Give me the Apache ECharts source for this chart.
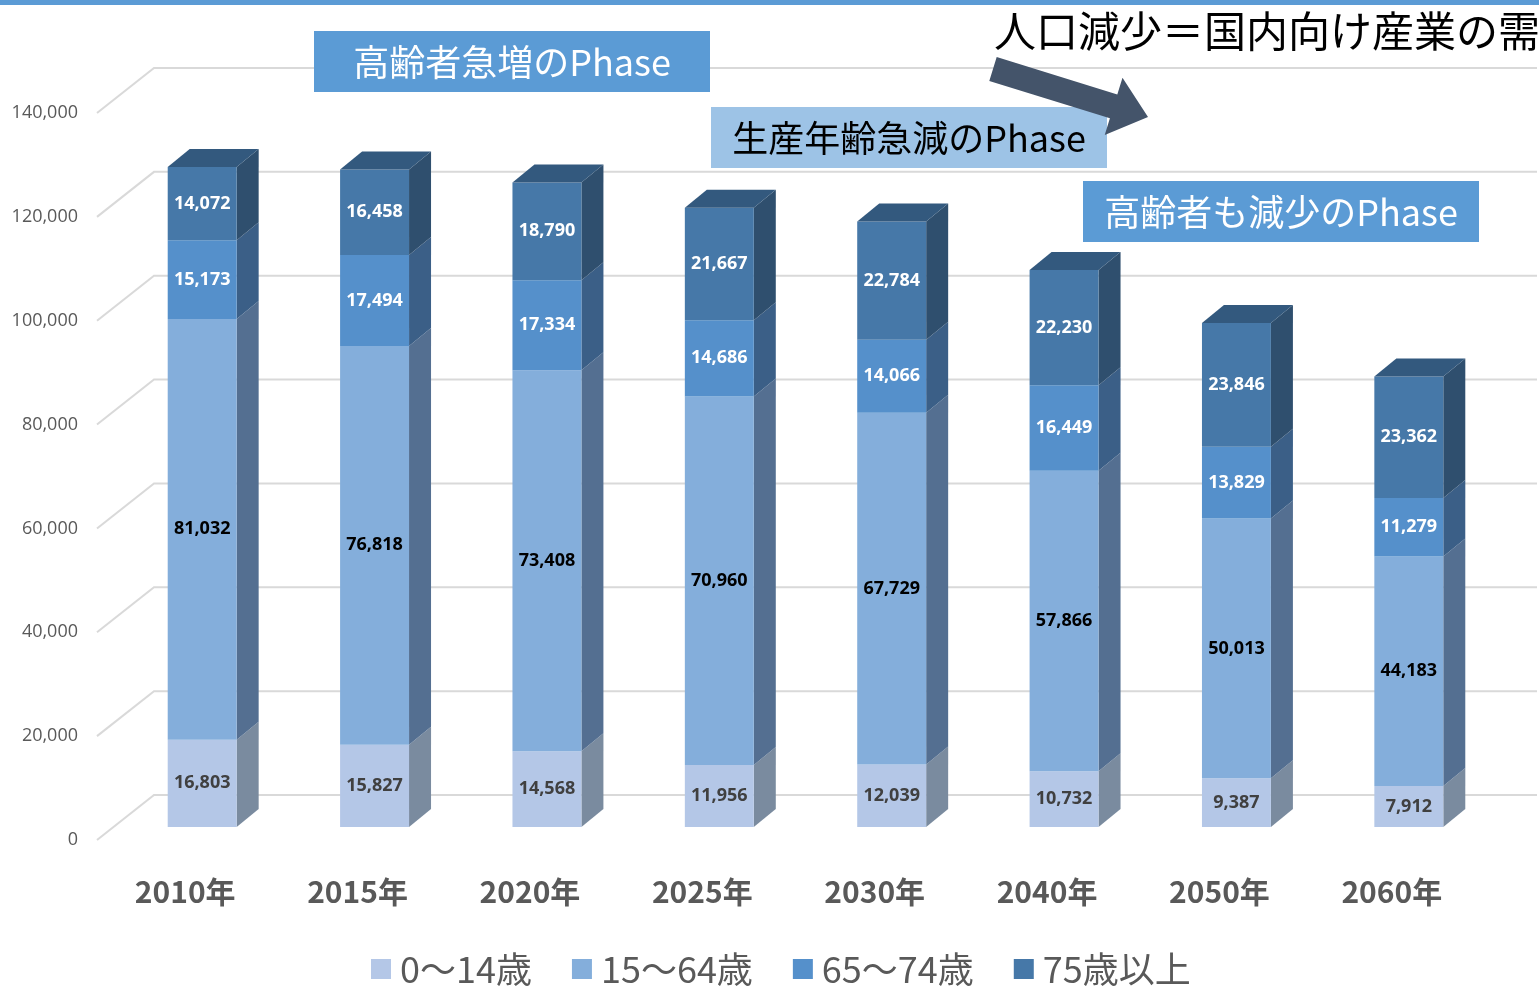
<!DOCTYPE html>
<html><head><meta charset="utf-8">
<script src="https://cdn.jsdelivr.net/npm/echarts@6/dist/echarts.min.js"></script>
<style>html,body{margin:0;padding:0;background:#fff}#c{width:1539px;height:993px}</style>
</head><body><div id="c"></div>
<script>
const categories = ['2010年','2015年','2020年','2025年','2030年','2040年','2050年','2060年'];
const seriesNames = ['0〜14歳','15〜64歳','65〜74歳','75歳以上'];
const age0_14  = [16803,15827,14568,11956,12039,10732,9387,7912];
const age15_64 = [81032,76818,73408,70960,67729,57866,50013,44183];
const age65_74 = [15173,17494,17334,14686,14066,16449,13829,11279];
const age75up  = [14072,16458,18790,21667,22784,22230,23846,23362];
const yTicks = [0,20000,40000,60000,80000,100000,120000,140000];

const frontColors = ['#b4c7e7','#84aedb','#5590cb','#4678a8'];
const sideColors  = ['#7a8b9f','#546f91','#3b5f87','#2f4f6e'];
const topColor = '#33597e';
const labelColors = ['#404040','#000000','#ffffff','#ffffff'];

const FX = 17, FY = -13;   // bar front face offset from the front plane
const DX = 22, DY = -18;   // bar depth
const WX = 57, WY = -45;   // wall depth

const values = [age0_14, age15_64, age65_74, age75up];
const bases = values.map((arr, s) => arr.map((_, i) => {
  let b = 0; for (let k = 0; k < s; k++) b += values[k][i]; return b;
}));

function fmt(v){ return Number(v).toLocaleString('en-US'); }

function barRender(s) {
  const isTop = s === values.length - 1;
  return function(params, api) {
    const i = api.value(0), lo = api.value(1), hi = api.value(2), v = api.value(3);
    const pLo = api.coord([i, lo]), pHi = api.coord([i, hi]);
    const w = api.size([1, 0])[0] * 0.4;
    const xL = pLo[0] + FX - w / 2, xR = xL + w;
    const yB = pLo[1] + FY, yT = pHi[1] + FY;
    const children = [
      {type:'polygon', shape:{points:[[xR,yT],[xR+DX,yT+DY],[xR+DX,yB+DY],[xR,yB]]}, style:{fill:sideColors[s]}},
      {type:'rect', shape:{x:xL, y:yT, width:w, height:yB-yT}, style:{fill:frontColors[s]}}
    ];
    if (isTop) {
      children.push({type:'polygon', shape:{points:[[xL,yT],[xL+DX,yT+DY],[xR+DX,yT+DY],[xR,yT]]}, style:{fill:topColor}});
    }
    children.push({type:'text', style:{text:fmt(v), x:(xL+xR)/2, y:(yT+yB)/2, align:'center', verticalAlign:'middle',
      fill:labelColors[s], font:'bold 18px "Open Sans", "Noto Sans CJK JP", sans-serif'}});
    return {type:'group', children};
  };
}

function gridRender(params, api) {
  const cs = params.coordSys;
  const y = api.coord([0, api.value(1)])[1];
  const x0 = cs.x - 2;
  return {type:'polyline', shape:{points:[[x0, y],[x0+WX, y+WY],[cs.x+cs.width+WX+2, y+WY]]},
    style:{stroke:'#d9d9d9', lineWidth:2, fill:null}};
}

const series = [{
  type:'custom', name:'grid', silent:true, z:1,
  renderItem: gridRender,
  encode:{x:0, y:1},
  data: yTicks.map(v => [0, v])
}];
values.forEach((arr, s) => {
  series.push({
    type:'custom', name:seriesNames[s], z:2 + s,
    itemStyle:{color:frontColors[s]},
    renderItem: barRender(s),
    encode:{x:0, y:[1,2]},
    data: arr.map((v, i) => [i, bases[s][i], bases[s][i] + v, v])
  });
});

// arrow geometry
function arrowPoints(x1, y1, x2, y2, shaftW, headW, headL) {
  const dx = x2 - x1, dy = y2 - y1, L = Math.hypot(dx, dy);
  const ux = dx / L, uy = dy / L, nx = -uy, ny = ux;
  const bx = x2 - ux * headL, by = y2 - uy * headL;
  return [
    [x1 + nx*shaftW/2, y1 + ny*shaftW/2],
    [bx + nx*shaftW/2, by + ny*shaftW/2],
    [bx + nx*headW/2, by + ny*headW/2],
    [x2, y2],
    [bx - nx*headW/2, by - ny*headW/2],
    [bx - nx*shaftW/2, by - ny*shaftW/2],
    [x1 - nx*shaftW/2, y1 - ny*shaftW/2]
  ];
}

const boxFont = '36px "Noto Sans CJK JP", sans-serif';
function box(x, y, fill, text, color) {
  return [
    {type:'rect', z:20, shape:{x:x, y:y, width:396, height:61}, style:{fill:fill}},
    {type:'text', z:21, style:{text:text, x:x+198, y:y+31, align:'center', verticalAlign:'middle', fill:color, font:boxFont}}
  ];
}

const chart = echarts.init(document.getElementById('c'), null, {renderer:'canvas'});
chart.setOption({
  animation:false,
  backgroundColor:'#ffffff',
  grid:{left:99, width:1379, top:113, height:727},
  xAxis:{type:'category', data:categories, axisLine:{show:false}, axisTick:{show:false},
    axisLabel:{margin:37, fontSize:30, fontWeight:'bold', color:'#595959', fontFamily:'"Noto Sans CJK JP", sans-serif'}},
  yAxis:{type:'value', min:0, max:140000, interval:20000, splitLine:{show:false}, axisLine:{show:false}, axisTick:{show:false},
    axisLabel:{margin:21, fontSize:18, color:'#595959', fontFamily:'"Open Sans", sans-serif', formatter:v => fmt(v)}},
  legend:{data:seriesNames, left:366, top:946, icon:'rect', itemWidth:20, itemHeight:20, itemGap:40,
    textStyle:{fontSize:36, color:'#595959', fontFamily:'"Noto Sans CJK JP", sans-serif', padding:[0,0,0,4]}},
  series,
  graphic:[
    {type:'rect', z:20, left:0, top:0, shape:{width:1539, height:5}, style:{fill:'#5b9bd5'}},
    ...box(314, 31, '#5b9bd5', '高齢者急増のPhase', '#ffffff'),
    ...box(711, 107, '#9dc3e6', '生産年齢急減のPhase', '#000000'),
    ...box(1083, 181, '#5b9bd5', '高齢者も減少のPhase', '#ffffff'),
    {type:'text', z:21, style:{text:'人口減少＝国内向け産業の需', x:994, y:31, align:'left', verticalAlign:'middle', fill:'#000000',
      font:'42px "Noto Sans CJK JP", sans-serif'}},
    {type:'polygon', z:22, shape:{points:arrowPoints(993, 69, 1148, 117, 25, 60, 36)}, style:{fill:'#44546a'}}
  ]
});
</script></body></html>
